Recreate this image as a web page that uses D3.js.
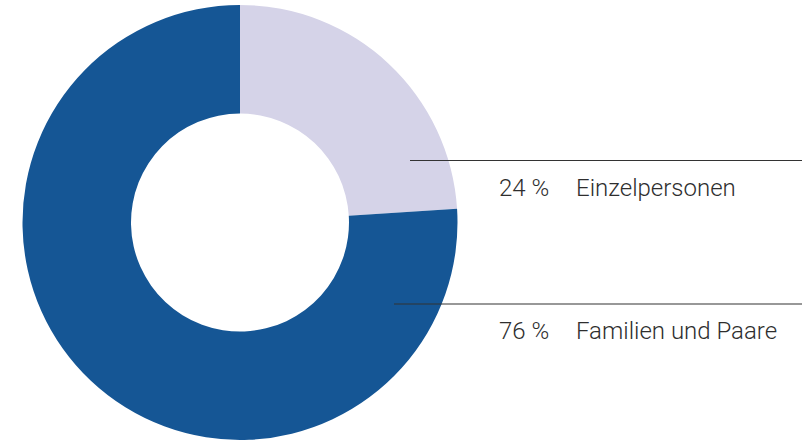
<!DOCTYPE html>
<html>
<head>
    <meta charset="utf-8">
    <title>Einzelpersonen / Familien und Paare</title>
    <style>
        body { margin: 0; background: #fff; }
        svg { display: block; }
    </style>
</head>
<body>
<div id="chart"></div>
<script src="https://cdn.jsdelivr.net/npm/d3@7"></script>
<script>
    // data
    const categories = ["Einzelpersonen", "Familien und Paare"];
    const shares = [24, 76];
    const valueLabels = ["24 %", "76 %"];

    const COLOR = {
        LIGHT: "#d5d3e8",
        BLUE: "#155695",
        TEXT: "#2e2e2e",
        RULE: "#333333"
    };

    const width = 805, height = 441;
    const cx = 240, cy = 222.5;
    const outerR = 217.5, innerR = 109;

    const svg = d3.select("#chart").append("svg")
        .attr("width", width)
        .attr("height", height);

    const pie = d3.pie().sort(null).value(d => d.value);
    const arc = d3.arc().innerRadius(innerR).outerRadius(outerR);

    const rows = categories.map((c, i) => ({ name: c, value: shares[i], label: valueLabels[i] }));

    const color = d3.scaleOrdinal().domain(categories).range([COLOR.LIGHT, COLOR.BLUE]);

    svg.append("g")
        .attr("transform", "translate(" + cx + "," + cy + ")")
        .selectAll("path")
        .data(pie(rows))
        .join("path")
        .attr("d", arc)
        .attr("fill", d => color(d.data.name));

    // label rows: rule + value + name
    const labelLayout = [
        { ruleX: 410, ruleY: 160.5, textY: 196 },
        { ruleX: 394, ruleY: 304, textY: 339 }
    ];

    const lg = svg.append("g");
    rows.forEach(function (d, i) {
        const l = labelLayout[i];
        lg.append("line")
            .attr("x1", l.ruleX).attr("x2", 802)
            .attr("y1", l.ruleY).attr("y2", l.ruleY)
            .attr("stroke", COLOR.RULE)
            .attr("stroke-width", 1.2);
        lg.append("text")
            .attr("x", 499).attr("y", l.textY)
            .attr("fill", COLOR.TEXT)
            .style("font-family", "Roboto, 'Liberation Sans', sans-serif")
            .style("font-weight", 300)
            .style("font-size", "24px")
            .text(d.label);
        lg.append("text")
            .attr("x", 576).attr("y", l.textY)
            .attr("fill", COLOR.TEXT)
            .style("font-family", "Roboto, 'Liberation Sans', sans-serif")
            .style("font-weight", 300)
            .style("font-size", "24px")
            .text(d.name);
    });
</script>
</body>
</html>
